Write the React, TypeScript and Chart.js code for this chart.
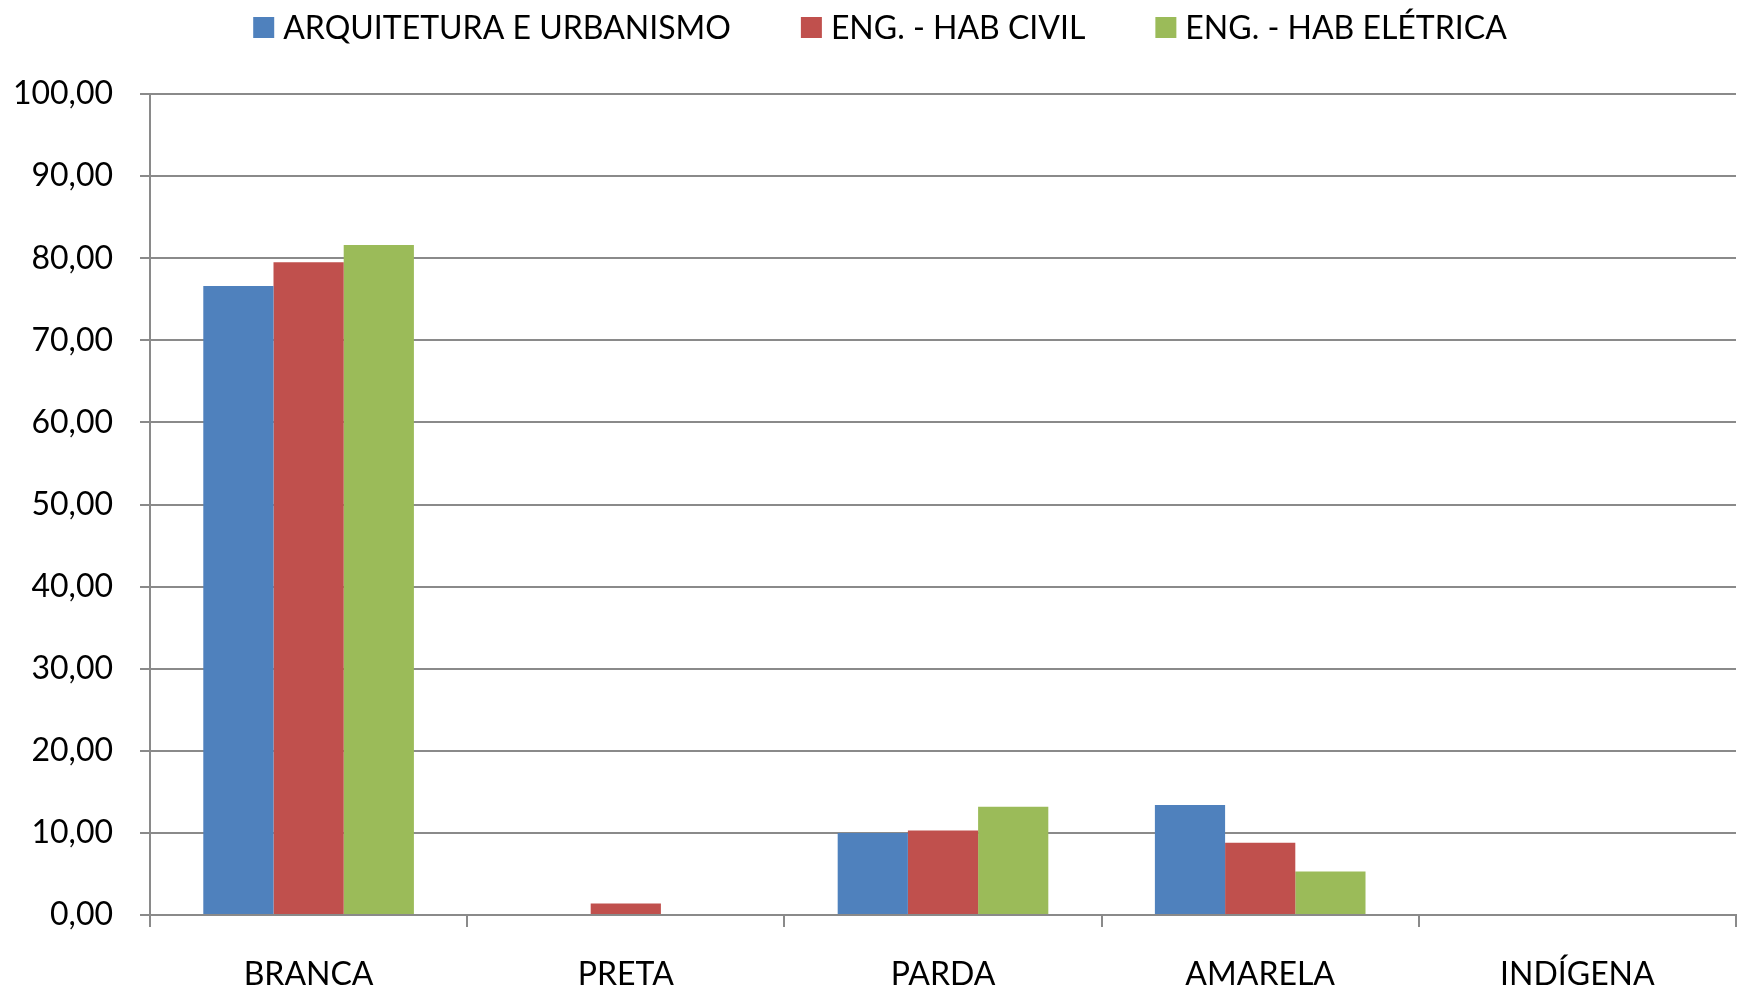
import React, { useEffect, useRef } from "react";
import { Chart, registerables } from "chart.js";

Chart.register(...registerables);

const categories = ["BRANCA", "PRETA", "PARDA", "AMARELA", "INDÍGENA"];
const seriesNames = ["ARQUITETURA E URBANISMO", "ENG. - HAB CIVIL", "ENG. - HAB ELÉTRICA"];
const arquitetura = [76.6, 0, 10.0, 13.4, 0];
const engCivil = [79.5, 1.4, 10.3, 8.8, 0];
const engEletrica = [81.6, 0, 13.2, 5.3, 0];
const seriesColors = ["#4F81BD", "#C0504D", "#9BBB59"];

const FONT = "Lato, 'Open Sans', sans-serif";
const GRID = "#8a8a8a";

const legendPlugin = {
  id: "customLegend",
  afterDraw(chart: any) {
    const ctx = chart.ctx;
    const datasets = chart.data.datasets;
    const box = 21;
    const gapText = 9;
    const gapItem = 70;
    ctx.save();
    ctx.font = `32px ${FONT}`;
    const widths = datasets.map((d: any) => box + gapText + ctx.measureText(d.label).width);
    const total = widths.reduce((a: number, b: number) => a + b, 0) + gapItem * (datasets.length - 1);
    let x = 880 - total / 2;
    const cy = 27.5;
    datasets.forEach((d: any, i: number) => {
      ctx.fillStyle = d.backgroundColor;
      ctx.fillRect(x, cy - box / 2, box, box);
      ctx.fillStyle = "#000";
      ctx.textBaseline = "middle";
      ctx.textAlign = "left";
      ctx.fillText(d.label, x + box + gapText, cy + 1);
      x += widths[i] + gapItem;
    });
    ctx.restore();
  },
};

export default function App() {
  const canvasRef = useRef<HTMLCanvasElement | null>(null);

  useEffect(() => {
    document.body.style.margin = "0";
    const canvas = canvasRef.current;
    if (!canvas) return;
    const values = [arquitetura, engCivil, engEletrica];
    const chart = new Chart(canvas, {
      type: "bar",
      data: {
        labels: categories,
        datasets: seriesNames.map((name, i) => ({
          label: name,
          data: values[i],
          backgroundColor: seriesColors[i],
          borderWidth: 0,
          categoryPercentage: 0.664,
          barPercentage: 1,
        })),
      },
      options: {
        animation: false,
        responsive: false,
        maintainAspectRatio: false,
        layout: { padding: { top: 94, right: 3, left: 0, bottom: 0 } },
        plugins: {
          legend: { display: false },
          tooltip: { enabled: false },
          title: { display: false },
        },
        scales: {
          x: {
            offset: true,
            afterFit: (scale: any) => {
              scale.height = 75;
            },
            grid: {
              offset: true,
              drawOnChartArea: false,
              drawTicks: true,
              tickLength: 12,
              color: GRID,
              lineWidth: 2,
            },
            border: { display: true, color: GRID, width: 2 },
            ticks: {
              color: "#000",
              font: { family: FONT, size: 32 },
              padding: 28,
              maxRotation: 0,
              autoSkip: false,
            },
          },
          y: {
            min: 0,
            max: 100,
            afterFit: (scale: any) => {
              scale.width = 150;
            },
            grid: {
              color: GRID,
              lineWidth: 2,
              tickLength: 10,
              drawTicks: true,
            },
            border: { display: true, color: GRID, width: 2 },
            ticks: {
              stepSize: 10,
              color: "#000",
              font: { family: FONT, size: 32 },
              padding: 27,
              callback: (v: any) => Number(v).toFixed(2).replace(".", ","),
            },
          },
        },
      },
      plugins: [legendPlugin],
    });
    return () => chart.destroy();
  }, []);

  return (
    <div style={{ width: 1739, height: 990, background: "#fff" }}>
      <canvas ref={canvasRef} width={1739} height={990} style={{ display: "block" }} />
    </div>
  );
}
